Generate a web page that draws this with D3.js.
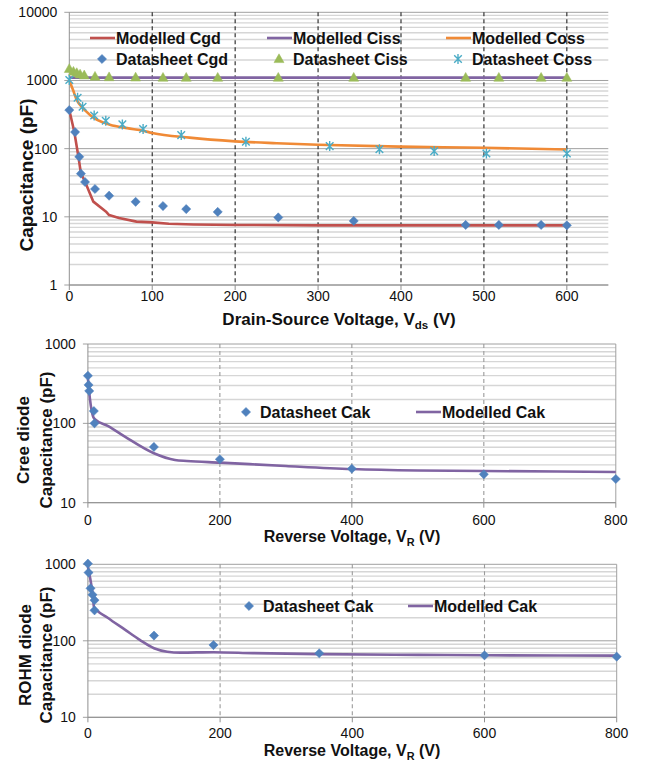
<!DOCTYPE html>
<html>
<head>
<meta charset="utf-8">
<script src="https://cdn.jsdelivr.net/npm/d3@7"></script>
<style>
  body { margin: 0; background: #fff; }
  svg { display: block; font-family: "Liberation Sans", Arial, Helvetica, sans-serif; }
</style>
</head>
<body>
<svg id="chart" width="647" height="761"></svg>
<script>
// ---- data ----
// MOSFET (top chart): [Vds, C in pF]
const cgdModel = [[0,368],[6,177],[11,76],[14,43.5],[19,32.7],[29,16.7],[44,12],[48,10.6],[60,9.6],[81,8.5],[100,8.3],[120,7.9],[150,7.7],[200,7.6],[300,7.5],[600,7.5]];
const cissModel = [[0,1100],[600,1100]];
const cossModel = [[0,1000],[5,700],[9,516],[16,400],[20,355],[29,285],[40,245],[49,225],[70,200],[89,183],[100,170],[145,145],[200,128],[250,120],[300,114],[400,107],[500,103],[600,97]];
const cgdSheet = [[0,368],[7,175],[12,76],[14,43],[19,32.4],[31,25.6],[48,20.4],[80,16.6],[113,14.4],[141,13],[179,11.8],[252,9.8],[343,8.7],[478,7.6],[518,7.6],[569,7.6],[600,7.5]];
const cissSheet = [[0,1480],[5,1350],[9,1290],[13,1230],[18,1190],[31,1140],[48,1120],[80,1110],[113,1100],[141,1100],[179,1100],[252,1100],[343,1100],[478,1100],[518,1100],[569,1100],[600,1100]];
const cossSheet = [[0,1014],[10,557],[16,411],[30,307],[44,257],[64,227],[89,194],[135,158],[213,126],[314,109],[374,98],[440,92],[503,85],[600,85]];
const mosTicksX = [0,100,200,300,400,500,600];
const mosDashX = [100,200,300,400,500,600];

// Cree diode (middle chart): [VR, C in pF]
const creeSheet = [[0,398],[1,305],[2,256],[9,143],[10,100],[100,50.4],[200,35.3],[400,26.8],[600,22.8],[800,19.9]];
const creeModel = [[0,372],[3,207],[8,121],[11,112],[30,93],[56,68],[100,42],[132,34.5],[150,33.5],[200,32],[300,29],[400,26.6],[500,25.5],[600,25.1],[800,24.4]];

// ROHM diode (bottom chart)
const rohmSheet = [[0,1020],[1,780],[4,485],[7,400],[10,340],[10,250],[100,117],[190,88],[350,68.7],[600,64.6],[800,62]];
const rohmModel = [[0,930],[6,486],[8,360],[9,280],[30,200],[56,140],[79,102],[100,80],[120,72],[140,70],[190,71],[250,69],[350,67],[500,65.5],[600,64.7],[800,64]];
const diodeTicksX = [0,200,400,600,800];
const diodeDashX = [200,400,600];

const blue = "#4F81BD", red = "#C0504D", purple = "#8064A2",
      orange = "#F08A36", green = "#9BBB59", teal = "#4BACC6";

const svg = d3.select("#chart");

const diamond = "M0,-4.6L4.6,0L0,4.6L-4.6,0Z";
const triangle = "M0,-5.2L5,3.6L-5,3.6Z";
const star = "M-3.8,-3.8L3.8,3.8M-3.8,3.8L3.8,-3.8M0,-5L0,5";

function panel(o) {
  const x = d3.scaleLinear().domain(o.xDomain).range([o.left, o.right]);
  const y = d3.scaleLog().domain(o.yDomain).range([o.bottom, o.top]);
  const g = svg.append("g");

  // horizontal log grid
  const lo = Math.log10(o.yDomain[0]), hi = Math.log10(o.yDomain[1]);
  const minor = [], major = [];
  for (let d = lo; d <= hi; d++) {
    major.push(Math.pow(10, d));
    if (d < hi) for (let k = 2; k <= 9; k++) minor.push(k * Math.pow(10, d));
  }
  g.selectAll(".mn").data(minor).enter().append("line")
    .attr("x1", o.left).attr("x2", o.right)
    .attr("y1", d => y(d)).attr("y2", d => y(d))
    .attr("stroke", "#D6D6D6").attr("stroke-width", 1.4);
  g.selectAll(".mj").data(major).enter().append("line")
    .attr("x1", o.left - 5).attr("x2", o.right)
    .attr("y1", d => y(d)).attr("y2", d => y(d))
    .attr("stroke", "#A0A0A0").attr("stroke-width", 1);

  // vertical dashed lines
  g.selectAll(".vd").data(o.dashX).enter().append("line")
    .attr("x1", d => x(d)).attr("x2", d => x(d))
    .attr("y1", o.top).attr("y2", o.bottom)
    .attr("stroke", o.dashColor).attr("stroke-width", 1.1)
    .attr("stroke-dasharray", "4,3");
  if (o.rightLine) {
    g.append("line").attr("x1", o.right).attr("x2", o.right)
      .attr("y1", o.top).attr("y2", o.bottom)
      .attr("stroke", "#A0A0A0");
  }

  // axes
  g.append("line").attr("x1", o.left).attr("x2", o.left)
    .attr("y1", o.top).attr("y2", o.bottom).attr("stroke", "#909090");
  g.append("line").attr("x1", o.left).attr("x2", o.right)
    .attr("y1", o.bottom).attr("y2", o.bottom).attr("stroke", "#909090");
  g.selectAll(".xt").data(o.ticksX).enter().append("line")
    .attr("x1", d => x(d)).attr("x2", d => x(d))
    .attr("y1", o.bottom).attr("y2", o.bottom + 5).attr("stroke", "#909090");

  g.selectAll(".yl").data(major).enter().append("text")
    .attr("x", o.left - 12).attr("y", d => y(d))
    .attr("text-anchor", "end").attr("dominant-baseline", "central")
    .attr("font-size", 14).attr("fill", "#111")
    .text(d => d3.format("d")(d));
  g.selectAll(".xl").data(o.ticksX).enter().append("text")
    .attr("x", d => x(d)).attr("y", o.xLabelY)
    .attr("text-anchor", "middle").attr("dominant-baseline", "central")
    .attr("font-size", 14).attr("fill", "#111")
    .text(d => d);

  // titles
  const xt = g.append("text").attr("x", o.xTitleX).attr("y", o.xTitleY)
    .attr("text-anchor", "middle").attr("font-weight", "bold")
    .attr("font-size", o.xTitleSize).attr("fill", "#111");
  xt.append("tspan").text(o.xTitle[0]);
  xt.append("tspan").attr("font-size", o.xTitleSize * 0.68).attr("dy", 4).text(o.xTitle[1]);
  xt.append("tspan").attr("dy", -4).text(o.xTitle[2]);

  o.yTitle.forEach((t, i) => {
    g.append("text")
      .attr("transform", `translate(${o.yTitleX[i]},${o.yTitleY}) rotate(-90)`)
      .attr("text-anchor", "middle").attr("dominant-baseline", "central")
      .attr("font-weight", "bold").attr("font-size", o.yTitleSize).attr("fill", "#111")
      .text(t);
  });

  return {g, x, y};
}

function drawLine(p, data, color, curve) {
  p.g.append("path").datum(data)
    .attr("fill", "none").attr("stroke", color).attr("stroke-width", 2.6)
    .attr("stroke-linejoin", "round")
    .attr("d", d3.line().x(d => p.x(d[0])).y(d => p.y(d[1])).curve(curve || d3.curveLinear));
}

function drawMarks(p, data, shape, color, stroked) {
  p.g.append("g").selectAll("path").data(data).enter().append("path")
    .attr("transform", d => `translate(${p.x(d[0])},${p.y(d[1])})`)
    .attr("d", shape)
    .attr("fill", stroked ? "none" : color)
    .attr("stroke", color).attr("stroke-width", stroked ? 1.4 : 0.5);
}

function legendItem(g, lx, ly, label, kind, color, shape, stroked) {
  if (kind === "line") {
    g.append("line").attr("x1", lx).attr("x2", lx + 25).attr("y1", ly).attr("y2", ly)
      .attr("stroke", color).attr("stroke-width", 2.6);
  } else {
    g.append("path").attr("transform", `translate(${lx + 12},${ly})`).attr("d", shape)
      .attr("fill", stroked ? "none" : color).attr("stroke", color)
      .attr("stroke-width", stroked ? 1.4 : 0.5);
  }
  g.append("text").attr("x", lx + 26).attr("y", ly)
    .attr("dominant-baseline", "central").attr("font-weight", "bold")
    .attr("font-size", 16).attr("fill", "#111").text(label);
}

// ---- top: MOSFET capacitances ----
const p1 = panel({
  xDomain: [0, 650], yDomain: [1, 10000],
  left: 69.3, right: 608.3, top: 12.3, bottom: 285,
  dashX: mosDashX, dashColor: "#222", rightLine: false, ticksX: mosTicksX,
  xLabelY: 296, xTitle: ["Drain-Source Voltage, V", "ds", " (V)"],
  xTitleX: 339, xTitleY: 325, xTitleSize: 17,
  yTitle: ["Capacitance (pF)"], yTitleX: [26], yTitleY: 175, yTitleSize: 19
});
drawLine(p1, cgdModel, red);
drawLine(p1, cissModel, purple);
drawLine(p1, cossModel, orange, d3.curveMonotoneX);
drawMarks(p1, cgdSheet, diamond, blue);
drawMarks(p1, cissSheet, triangle, green);
drawMarks(p1, cossSheet, star, teal, true);

legendItem(p1.g, 90, 38, "Modelled Cgd", "line", red);
legendItem(p1.g, 267, 38, "Modelled Ciss", "line", purple);
legendItem(p1.g, 446, 38, "Modelled Coss", "line", orange);
legendItem(p1.g, 90, 59, "Datasheet Cgd", "mark", blue, diamond);
legendItem(p1.g, 267, 59, "Datasheet Ciss", "mark", green, triangle);
legendItem(p1.g, 446, 59, "Datasheet Coss", "mark", teal, star, true);

// ---- middle: Cree diode ----
const p2 = panel({
  xDomain: [0, 800], yDomain: [10, 1000],
  left: 87.9, right: 615.8, top: 344, bottom: 502.7,
  dashX: diodeDashX, dashColor: "#9A9A9A", rightLine: true, ticksX: diodeTicksX,
  xLabelY: 520, xTitle: ["Reverse Voltage, V", "R", " (V)"],
  xTitleX: 352, xTitleY: 542, xTitleSize: 16,
  yTitle: ["Cree diode", "Capacitance (pF)"], yTitleX: [23, 46], yTitleY: 440, yTitleSize: 17
});
drawLine(p2, creeModel, purple, d3.curveMonotoneX);
drawMarks(p2, creeSheet, diamond, blue);
legendItem(p2.g, 234, 412, "Datasheet Cak", "mark", blue, diamond);
legendItem(p2.g, 416, 412, "Modelled Cak", "line", purple);

// ---- bottom: ROHM diode ----
const p3 = panel({
  xDomain: [0, 800], yDomain: [10, 1000],
  left: 87.9, right: 616.7, top: 564.3, bottom: 717.3,
  dashX: diodeDashX, dashColor: "#9A9A9A", rightLine: true, ticksX: diodeTicksX,
  xLabelY: 733, xTitle: ["Reverse Voltage, V", "R", " (V)"],
  xTitleX: 352, xTitleY: 756, xTitleSize: 16,
  yTitle: ["ROHM diode", "Capacitance (pF)"], yTitleX: [25, 46], yTitleY: 655, yTitleSize: 17
});
drawLine(p3, rohmModel, purple, d3.curveMonotoneX);
drawMarks(p3, rohmSheet, diamond, blue);
legendItem(p3.g, 237, 606, "Datasheet Cak", "mark", blue, diamond);
legendItem(p3.g, 408, 606, "Modelled Cak", "line", purple);
</script>
</body>
</html>
